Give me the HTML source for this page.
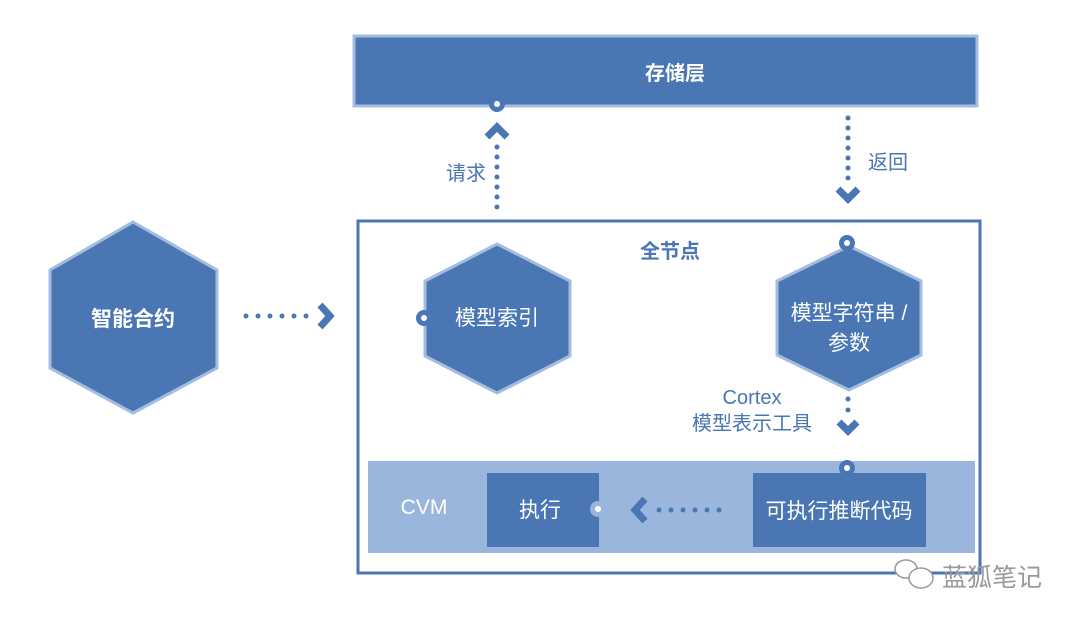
<!DOCTYPE html>
<html><head><meta charset="utf-8"><style>
html,body{margin:0;padding:0;background:#fff;}
svg{display:block;}
text{font-family:"Liberation Sans","Noto Sans CJK SC",sans-serif;}
</style></head><body>
<svg width="1080" height="623" viewBox="0 0 1080 623" xmlns="http://www.w3.org/2000/svg">
<rect width="1080" height="623" fill="#fff"/>
<!-- storage bar -->
<rect x="354" y="36" width="623" height="70" fill="#4a76b4" stroke="#a3bde0" stroke-width="3"/>
<text x="675" y="80" font-size="20" font-weight="bold" fill="#fff" text-anchor="middle">存储层</text>
<!-- request -->
<circle cx="497" cy="104" r="8" fill="#4a76b4"/><circle cx="497" cy="104" r="3" fill="#fff"/>
<g fill="#4a76b4">
<circle cx="497" cy="147" r="2.5"/><circle cx="497" cy="157" r="2.5"/><circle cx="497" cy="167" r="2.5"/><circle cx="497" cy="177" r="2.5"/><circle cx="497" cy="187" r="2.5"/><circle cx="497" cy="197" r="2.5"/><circle cx="497" cy="207" r="2.5"/>
</g>
<polyline points="487,137 497,127 507,137" fill="none" stroke="#4a76b4" stroke-width="7"/>
<text x="466" y="180" font-size="20" fill="#4a76b4" text-anchor="middle">请求</text>
<!-- return -->
<g fill="#4a76b4">
<circle cx="848" cy="118" r="2.5"/><circle cx="848" cy="128" r="2.5"/><circle cx="848" cy="138" r="2.5"/><circle cx="848" cy="148" r="2.5"/><circle cx="848" cy="158" r="2.5"/><circle cx="848" cy="168" r="2.5"/><circle cx="848" cy="178" r="2.5"/>
</g>
<polyline points="838,189 848,199 858,189" fill="none" stroke="#4a76b4" stroke-width="7"/>
<text x="888" y="169" font-size="20" fill="#4a76b4" text-anchor="middle">返回</text>
<!-- full node box -->
<rect x="358" y="221" width="622" height="352" fill="none" stroke="#4a76b4" stroke-width="3"/>
<text x="670" y="258" font-size="20" font-weight="bold" fill="#4a76b4" text-anchor="middle">全节点</text>
<!-- left hex -->
<polygon points="133,222 217,270 217,368 133,413 50,368 50,270" fill="#4a76b4" stroke="#a3bde0" stroke-width="3"/>
<text x="133" y="326" font-size="21" font-weight="bold" fill="#fff" text-anchor="middle">智能合约</text>
<g fill="#4a76b4">
<circle cx="246" cy="316" r="2.5"/><circle cx="258" cy="316" r="2.5"/><circle cx="270" cy="316" r="2.5"/><circle cx="282" cy="316" r="2.5"/><circle cx="294" cy="316" r="2.5"/><circle cx="306" cy="316" r="2.5"/>
</g>
<polyline points="320,305 330,316 320,327" fill="none" stroke="#4a76b4" stroke-width="7"/>
<!-- hex 模型索引 -->
<polygon points="497,244 570,281 570,356 497,393 425,356 425,281" fill="#4a76b4" stroke="#a3bde0" stroke-width="3"/>
<circle cx="424" cy="318" r="8" fill="#4a76b4"/><circle cx="424" cy="318" r="3" fill="#fff"/>
<text x="497" y="325" font-size="21" fill="#fff" text-anchor="middle">模型索引</text>
<!-- hex 模型字符串 -->
<polygon points="849,246 921,281 921,355 849,390 777,355 777,281" fill="#4a76b4" stroke="#a3bde0" stroke-width="3"/>
<circle cx="847" cy="243" r="8" fill="#4a76b4"/><circle cx="847" cy="243" r="3" fill="#fff"/>
<text x="849" y="320" font-size="21" fill="#fff" text-anchor="middle">模型字符串 /</text>
<text x="849" y="350" font-size="21" fill="#fff" text-anchor="middle">参数</text>
<!-- cortex -->
<text x="752" y="404" font-size="20" fill="#4a76b4" text-anchor="middle">Cortex</text>
<text x="752" y="430" font-size="20" fill="#4a76b4" text-anchor="middle">模型表示工具</text>
<circle cx="848" cy="399" r="2.5" fill="#4a76b4"/><circle cx="848" cy="410" r="2.5" fill="#4a76b4"/>
<polyline points="839,422 848,431 857,422" fill="none" stroke="#4a76b4" stroke-width="7"/>
<!-- CVM panel -->
<rect x="368" y="461" width="607" height="92" fill="#9bb6dc"/>
<text x="424" y="514" font-size="21" fill="#fff" text-anchor="middle">CVM</text>
<rect x="487" y="473" width="112" height="74" fill="#4a76b4"/>
<text x="540" y="517" font-size="21" fill="#fff" text-anchor="middle">执行</text>
<circle cx="598" cy="509" r="8" fill="#9bb6dc"/><circle cx="598" cy="509" r="3" fill="#fff"/>
<rect x="753" y="473" width="173" height="74" fill="#4a76b4"/>
<circle cx="847" cy="468" r="8" fill="#4a76b4"/><circle cx="847" cy="468" r="3" fill="#fff"/>
<text x="839" y="518" font-size="21" fill="#fff" text-anchor="middle">可执行推断代码</text>
<g fill="#4a76b4">
<circle cx="659" cy="510" r="2.5"/><circle cx="671" cy="510" r="2.5"/><circle cx="683" cy="510" r="2.5"/><circle cx="695" cy="510" r="2.5"/><circle cx="707" cy="510" r="2.5"/><circle cx="719" cy="510" r="2.5"/>
</g>
<polyline points="645,499 635,510 645,521" fill="none" stroke="#4a76b4" stroke-width="7"/>
<!-- watermark -->
<g fill="#fff" stroke="#999" stroke-width="1.5">
<ellipse cx="906" cy="569" rx="11" ry="9"/><ellipse cx="921" cy="578" rx="12" ry="10"/>
</g>
<text x="992" y="586" font-size="25" fill="#999" text-anchor="middle">蓝狐笔记</text>
</svg>
</body></html>
